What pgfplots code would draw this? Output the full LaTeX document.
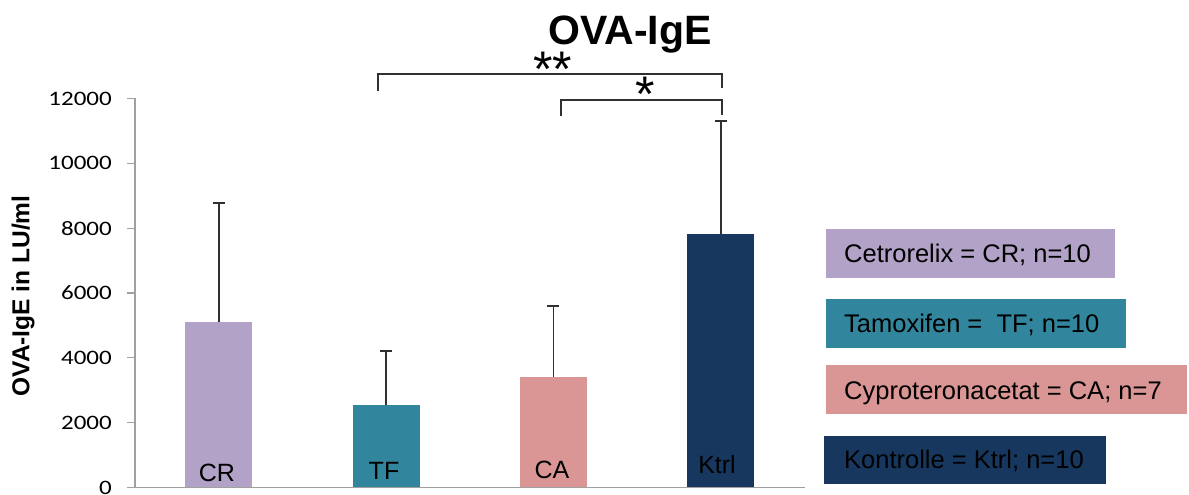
\documentclass[border=0pt]{standalone}
\usepackage{pgfplots}
\pgfplotsset{compat=1.18}
\usepackage{fontspec}
\setmainfont{Liberation Sans}
\newfontfamily\calib[FakeStretch=1.22]{Carlito}
\definecolor{cr}{HTML}{B2A2C7}
\definecolor{tf}{HTML}{31859C}
\definecolor{ca}{HTML}{D99694}
\definecolor{kt}{HTML}{17375E}
\definecolor{axgray}{HTML}{A0A0A0}
\definecolor{errc}{HTML}{303030}
\begin{document}
\begin{tikzpicture}[x=1pt,y=1pt]
\path[use as bounding box] (0,0) rectangle (1189,495);
\begin{axis}[
  at={(135pt,7.5pt)}, anchor=south west,
  scale only axis, width=669.5pt, height=389pt,
  xmin=-0.5, xmax=3.5, ymin=0, ymax=12000,
  axis x line*=bottom, axis y line*=left,
  axis line style={axgray, line width=1.3pt, -},
  xtick=\empty,
  ytick={0,2000,...,12000},
  ytick style={axgray, line width=1.3pt},
  tick align=outside, major tick length=8pt,
  scaled y ticks=false,
  yticklabel style={font=\calib\fontsize{20.5}{20.5}\selectfont, inner sep=0pt, xshift=-15pt},
  /pgf/number format/.cd, 1000 sep={}, assume math mode=true, /pgfplots/.cd,
  clip=false,
  error bars/error bar style={errc, line width=1.8pt},
  error bars/error mark options={errc, rotate=90, mark size=6pt, line width=1.8pt},
]
\addplot[ybar, bar shift=0pt, bar width=67pt, fill=cr, draw=none,
  error bars/.cd, y dir=plus, y explicit] coordinates {(0,5110) +- (0,3670)};
\addplot[ybar, bar shift=0pt, bar width=67pt, fill=tf, draw=none,
  error bars/.cd, y dir=plus, y explicit] coordinates {(1,2546) +- (0,1667)};
\addplot[ybar, bar shift=0pt, bar width=67pt, fill=ca, draw=none,
  error bars/.cd, y dir=plus, y explicit] coordinates {(2,3410) +- (0,2190)};
\addplot[ybar, bar shift=0pt, bar width=67pt, fill=kt, draw=none,
  error bars/.cd, y dir=plus, y explicit] coordinates {(3,7824) +- (0,3488)};
\draw[errc, line width=1.5pt] (axis cs:0.952,12231) |- (axis cs:3.006,12756) -- (axis cs:3.006,12324);
\draw[errc, line width=1.5pt] (axis cs:2.045,11460) |- (axis cs:3.006,11954) -- (axis cs:3.006,11491);
\end{axis}
% title and axis label
\node[anchor=base, font=\bfseries\fontsize{41}{41}\selectfont] at (630,450) {OVA-IgE};
\node[rotate=90, font=\bfseries\fontsize{24.5}{24.5}\selectfont] at (23,199) {OVA-IgE in LU/ml};
% significance stars
\node[anchor=base, font=\fontsize{50}{50}\selectfont, inner sep=0pt] at (553,408) {**};
\node[anchor=base, font=\fontsize{50}{50}\selectfont, inner sep=0pt] at (645,383) {*};
% bar labels
\node[anchor=base, font=\fontsize{25}{25}\selectfont, inner sep=0pt] at (217,13) {CR};
\node[anchor=base, font=\fontsize{25}{25}\selectfont, inner sep=0pt] at (384,15) {TF};
\node[anchor=base, font=\fontsize{25}{25}\selectfont, inner sep=0pt] at (552,16) {CA};
\node[anchor=base, font=\fontsize{25}{25}\selectfont, inner sep=0pt] at (717,21) {Ktrl};
% legend boxes
\fill[cr] (826,217) rectangle (1115,266);
\fill[tf] (826,147) rectangle (1126,196);
\fill[ca] (826,81) rectangle (1187,130);
\fill[kt] (824,11) rectangle (1106,59);
\node[anchor=base west, font=\fontsize{25.5}{25.5}\selectfont, inner sep=0pt] at (844,232) {Cetrorelix = CR; n=10};
\node[anchor=base west, font=\fontsize{25.5}{25.5}\selectfont, inner sep=0pt] at (844,162) {Tamoxifen =~~TF; n=10};
\node[anchor=base west, font=\fontsize{25.5}{25.5}\selectfont, inner sep=0pt] at (844,95) {Cyproteronacetat = CA; n=7};
\node[anchor=base west, font=\fontsize{25.5}{25.5}\selectfont, inner sep=0pt] at (844,26) {Kontrolle = Ktrl; n=10};
\end{tikzpicture}
\end{document}
